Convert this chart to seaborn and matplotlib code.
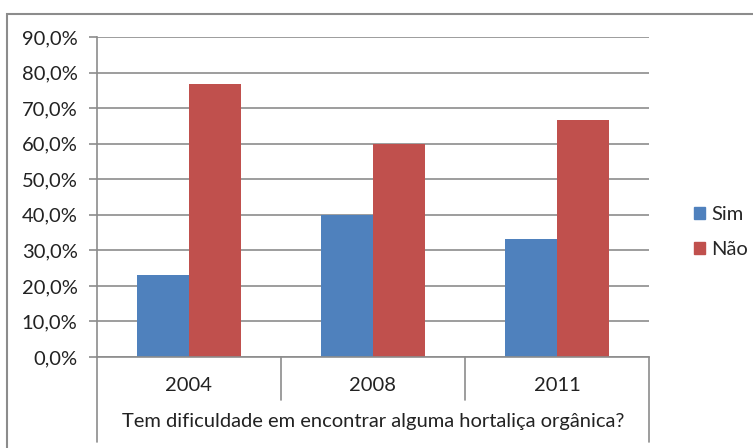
import pandas as pd
import matplotlib.pyplot as plt
import matplotlib.patches as mpatches
import seaborn as sns
from matplotlib.ticker import FuncFormatter, MultipleLocator

anos = ['2004', '2008', '2011']
sim = [23.1, 40.0, 33.3]
nao = [76.9, 60.0, 66.7]
respostas = ['Sim', 'Não']
cores = ['#4F81BD', '#C0504D']

df = pd.DataFrame({
    'Ano': anos * 2,
    'Resposta': ['Sim'] * 3 + ['Não'] * 3,
    'Valor': sim + nao,
})

sns.set_style('white')
plt.rcParams['font.family'] = ['Lato', 'DejaVu Sans']
fs = 14.5

W, H = 753, 448
fig = plt.figure(figsize=(W / 100, H / 100), dpi=100)
ax = fig.add_axes([97 / W, 1 - 357 / H, (649 - 97) / W, (357 - 37) / H])

sns.barplot(data=df, x='Ano', y='Valor', hue='Resposta', hue_order=respostas,
            palette=cores, width=0.57, gap=0, saturation=1, ax=ax,
            edgecolor='none', legend=False)

cinza = '#8c8c8c'
ax.set_ylim(0, 90)
ax.set_xlim(-0.5, 2.5)
ax.yaxis.set_major_locator(MultipleLocator(10))
ax.yaxis.set_major_formatter(FuncFormatter(lambda v, p: f'{v:.1f}%'.replace('.', ',')))
ax.yaxis.grid(True, color=cinza, linewidth=1.2)
ax.set_axisbelow(True)
for s in ['top', 'right']:
    ax.spines[s].set_visible(False)
for s in ['left', 'bottom']:
    ax.spines[s].set_color(cinza)
    ax.spines[s].set_linewidth(1.2)
ax.tick_params(axis='y', left=True, length=6, width=1.2, color=cinza,
               labelsize=fs, labelcolor='#222222', pad=8)
ax.tick_params(axis='x', bottom=False, labelbottom=False)
ax.set_xlabel('')
ax.set_ylabel('')

# caixas de categorias estilo Excel
trans = ax.get_xaxis_transform()
for xs in [0.5, 1.5]:
    ax.plot([xs, xs], [0, -43 / 320], transform=trans, color=cinza, lw=1.2, clip_on=False)
for xs in [-0.5, 2.5]:
    ax.plot([xs, xs], [0, -85 / 320], transform=trans, color=cinza, lw=1.2, clip_on=False)
for i, a in enumerate(anos):
    ax.text(i, -28 / 320, a, transform=trans, ha='center', va='center',
            fontsize=fs, color='#222222')
ax.text(1, -64 / 320, 'Tem dificuldade em encontrar alguma hortaliça orgânica?',
        transform=trans, ha='center', va='center', fontsize=fs, color='#222222')

handles = [mpatches.Patch(color=c, label=r) for c, r in zip(cores, respostas)]
fig.legend(handles=handles, loc='center left', bbox_to_anchor=(676 / W, 1 - 232 / H),
           frameon=False, fontsize=fs, handlelength=0.55, handleheight=0.55,
           handletextpad=0.3, labelspacing=0.9)

fig.patches.append(mpatches.Rectangle((7 / W, -0.1), 1.2, 1 - 14 / H + 0.1,
                                      transform=fig.transFigure, fill=False,
                                      edgecolor=cinza, lw=1.5))

fig.savefig('out.png', dpi=100)
